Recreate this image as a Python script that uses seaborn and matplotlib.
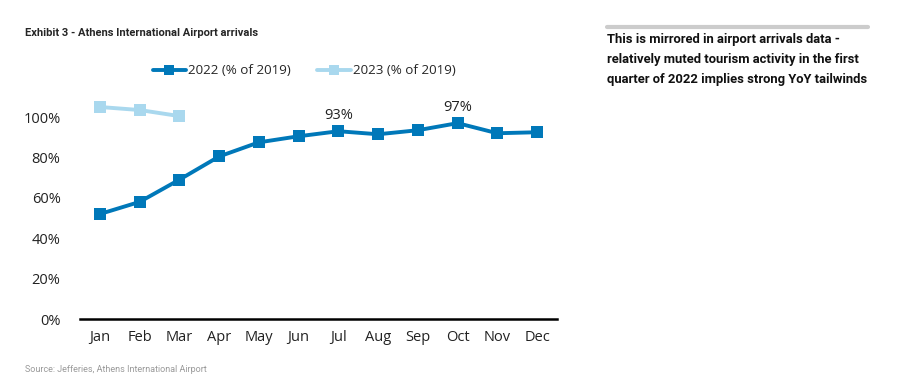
import pandas as pd
import matplotlib.pyplot as plt
import seaborn as sns

# data
months = ["Jan", "Feb", "Mar", "Apr", "May", "Jun", "Jul", "Aug", "Sep", "Oct", "Nov", "Dec"]
arrivals_2022 = [52, 58, 69, 80.5, 87.5, 90.5, 93, 91.5, 93.5, 97, 92, 92.5]
arrivals_2023 = [105, 103.5, 100.5]
yticks = [0, 20, 40, 60, 80, 100]

df = pd.concat([
    pd.DataFrame({"month": months, "pos": range(12), "value": arrivals_2022,
                  "series": "2022 (% of 2019)"}),
    pd.DataFrame({"month": months[:3], "pos": range(3), "value": arrivals_2023,
                  "series": "2023 (% of 2019)"}),
])

# style
sns.set_theme(style="white")
plt.rcParams["font.family"] = ["Open Sans", "DejaVu Sans"]

fig = plt.figure(figsize=(9.15, 3.83), dpi=100)
ax = fig.add_axes([0.0874, 0.167, 0.5213, 0.58])

palette = {"2022 (% of 2019)": "#0078B9", "2023 (% of 2019)": "#A9D8EE"}
sns.lineplot(data=df, x="pos", y="value", hue="series", palette=palette,
             marker="s", markersize=8, markeredgewidth=0, linewidth=2.8,
             ax=ax)

ax.set_xlim(-0.5, 11.5)
ax.set_ylim(0, 110)
ax.set_xticks(range(12))
ax.set_xticklabels(months)
ax.set_yticks(yticks)
ax.set_yticklabels([f"{v}%" for v in yticks])
ax.tick_params(axis="both", length=0, labelsize=10.5, colors="#222222")
ax.tick_params(axis="y", pad=14)
ax.tick_params(axis="x", pad=8)
ax.set_xlabel("")
ax.set_ylabel("")
for side in ["top", "right", "left"]:
    ax.spines[side].set_visible(False)
ax.spines["bottom"].set_linewidth(1.8)
ax.spines["bottom"].set_color("black")

# data labels
for i in [6, 9]:
    ax.annotate(f"{arrivals_2022[i]:.0f}%", (i, arrivals_2022[i]),
                xytext=(0, 6), textcoords="offset points",
                ha="center", va="bottom", fontsize=10.5, color="#222222")

ax.legend(loc="center", bbox_to_anchor=(0.47, 1.117), ncol=2,
          frameon=False, fontsize=9.6, handlelength=2.5,
          columnspacing=2.0, handletextpad=0.15, markerscale=0.85)

# titles and side text
fig.text(0.027, 0.905, "Exhibit 3 - Athens International Airport arrivals",
         fontsize=8, fontweight="bold", family=["Roboto", "DejaVu Sans"])
fig.text(0.027, 0.03, "Source: Jefferies, Athens International Airport",
         fontsize=6.5, color="#9a9a9a", family=["Roboto", "DejaVu Sans"])
fig.add_artist(plt.Line2D([0.663, 0.949], [0.929, 0.929], color="#cccccc",
                          linewidth=3, transform=fig.transFigure))
fig.text(0.663, 0.914,
         "This is mirrored in airport arrivals data -\n"
         "relatively muted tourism activity in the first\n"
         "quarter of 2022 implies strong YoY tailwinds",
         fontsize=9.4, fontweight="bold", va="top", linespacing=1.72,
         family=["Roboto", "DejaVu Sans"], color="#111111")

plt.savefig("out.png", dpi=100)
